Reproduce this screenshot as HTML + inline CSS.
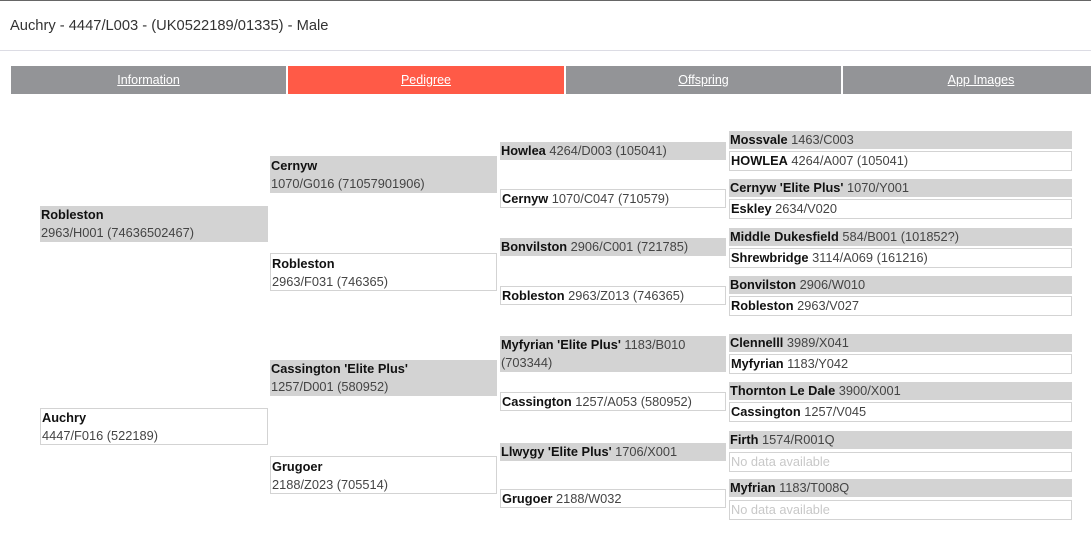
<!DOCTYPE html>
<html><head><meta charset="utf-8"><style>
body{margin:0;width:1091px;height:537px;background:#fff;font-family:"Liberation Sans","DejaVu Sans",sans-serif;position:relative;overflow:hidden;color:#333}
.a{position:absolute;box-sizing:border-box}
.t{position:absolute;top:66px;height:28px;line-height:28px;text-align:center;color:#fff;font-size:12.5px;text-decoration:underline;background:#939497}
.g{background:#d3d3d3}
.w{border:1px solid #d3d3d3;background:#fff}
.b{font-size:12.8px;line-height:18px;padding-left:1px;color:#444;white-space:nowrap;overflow:hidden}
.b b{color:#111}
.nd{color:#c8c8c8}
</style></head><body>
<div class="a" style="left:0;top:0;width:1091px;height:1px;background:#666"></div>
<div class="a" style="left:10px;top:18px;font-size:14.7px;color:#333">Auchry - 4447/L003 - (UK0522189/01335) - Male</div>
<div class="a" style="left:0;top:50px;width:1091px;height:1px;background:#dcdce4"></div>
<div class="t" style="left:11px;width:275px">Information</div>
<div class="t" style="left:288px;width:276px;background:#ff5a47">Pedigree</div>
<div class="t" style="left:566px;width:275px">Offspring</div>
<div class="t" style="left:843px;width:276px">App Images</div>

<div class="a g b" style="left:40px;top:206px;width:228px;height:36px"><b>Robleston</b><br>2963/H001 (74636502467)</div>
<div class="a w b" style="left:40px;top:408px;width:228px;height:37px"><b>Auchry</b><br>4447/F016 (522189)</div>

<div class="a g b" style="left:270px;top:156px;width:227px;height:37px;padding-top:1px"><b>Cernyw</b><br>1070/G016 (71057901906)</div>
<div class="a w b" style="left:270px;top:253px;width:227px;height:38px;padding-top:1px"><b>Robleston</b><br>2963/F031 (746365)</div>
<div class="a g b" style="left:270px;top:360px;width:227px;height:36px"><b>Cassington 'Elite Plus'</b><br>1257/D001 (580952)</div>
<div class="a w b" style="left:270px;top:456px;width:227px;height:38px;padding-top:1px"><b>Grugoer</b><br>2188/Z023 (705514)</div>

<div class="a g b" style="left:500px;top:142px;width:226px;height:18px"><b>Howlea</b> 4264/D003 (105041)</div>
<div class="a w b" style="left:500px;top:189px;width:226px;height:19px"><b>Cernyw</b> 1070/C047 (710579)</div>
<div class="a g b" style="left:500px;top:238px;width:226px;height:18px"><b>Bonvilston</b> 2906/C001 (721785)</div>
<div class="a w b" style="left:500px;top:286px;width:226px;height:19px"><b>Robleston</b> 2963/Z013 (746365)</div>
<div class="a g b" style="left:500px;top:336px;width:226px;height:36px"><b>Myfyrian 'Elite Plus'</b> 1183/B010<br>(703344)</div>
<div class="a w b" style="left:500px;top:392px;width:226px;height:19px"><b>Cassington</b> 1257/A053 (580952)</div>
<div class="a g b" style="left:500px;top:443px;width:226px;height:18px"><b>Llwygy 'Elite Plus'</b> 1706/X001</div>
<div class="a w b" style="left:500px;top:489px;width:226px;height:19px"><b>Grugoer</b> 2188/W032</div>

<div class="a g b" style="left:729px;top:131px;width:343px;height:18px"><b>Mossvale</b> 1463/C003</div>
<div class="a w b" style="left:729px;top:151px;width:343px;height:20px"><b>HOWLEA</b> 4264/A007 (105041)</div>
<div class="a g b" style="left:729px;top:179px;width:343px;height:18px"><b>Cernyw 'Elite Plus'</b> 1070/Y001</div>
<div class="a w b" style="left:729px;top:199px;width:343px;height:20px"><b>Eskley</b> 2634/V020</div>
<div class="a g b" style="left:729px;top:228px;width:343px;height:18px"><b>Middle Dukesfield</b> 584/B001 (101852?)</div>
<div class="a w b" style="left:729px;top:248px;width:343px;height:20px"><b>Shrewbridge</b> 3114/A069 (161216)</div>
<div class="a g b" style="left:729px;top:276px;width:343px;height:18px"><b>Bonvilston</b> 2906/W010</div>
<div class="a w b" style="left:729px;top:296px;width:343px;height:20px"><b>Robleston</b> 2963/V027</div>
<div class="a g b" style="left:729px;top:334px;width:343px;height:18px"><b>Clennelll</b> 3989/X041</div>
<div class="a w b" style="left:729px;top:354px;width:343px;height:20px"><b>Myfyrian</b> 1183/Y042</div>
<div class="a g b" style="left:729px;top:382px;width:343px;height:18px"><b>Thornton Le Dale</b> 3900/X001</div>
<div class="a w b" style="left:729px;top:402px;width:343px;height:20px"><b>Cassington</b> 1257/V045</div>
<div class="a g b" style="left:729px;top:431px;width:343px;height:18px"><b>Firth</b> 1574/R001Q</div>
<div class="a w b nd" style="left:729px;top:452px;width:343px;height:20px">No data available</div>
<div class="a g b" style="left:729px;top:479px;width:343px;height:18px"><b>Myfrian</b> 1183/T008Q</div>
<div class="a w b nd" style="left:729px;top:500px;width:343px;height:20px">No data available</div>
</body></html>
